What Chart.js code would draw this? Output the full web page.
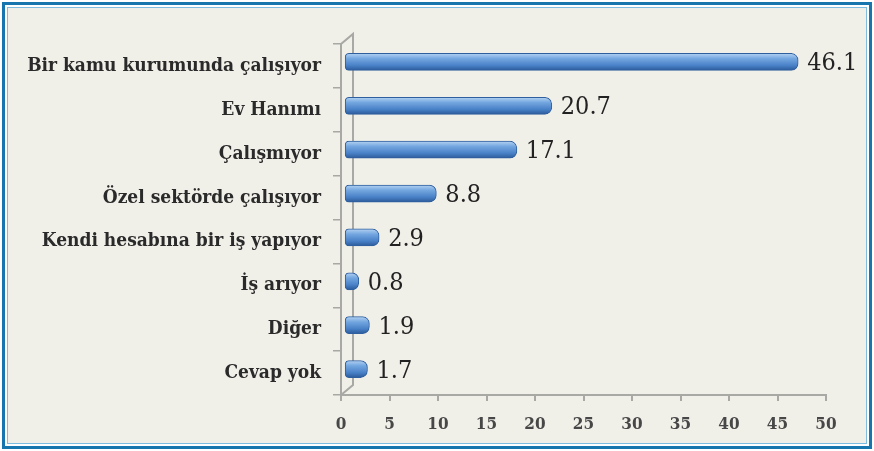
<!DOCTYPE html>
<html><head><meta charset="utf-8">
<script src="https://cdn.jsdelivr.net/npm/chart.js@4.4.0/dist/chart.umd.min.js"></script>
<style>html,body{margin:0;padding:0;background:#fff}#wrap{width:874px;height:451px;position:relative}</style>
</head><body><div id="wrap"><canvas id="c"></canvas></div>
<script>
const categories = ["Bir kamu kurumunda çalışıyor","Ev Hanımı","Çalışmıyor","Özel sektörde çalışıyor","Kendi hesabına bir iş yapıyor","İş arıyor","Diğer","Cevap yok"];
const values = [46.1, 20.7, 17.1, 8.8, 2.9, 0.8, 1.9, 1.7];
const valueLabels = ["46.1","20.7","17.1","8.8","2.9","0.8","1.9","1.7"];
const xTicks = [0,5,10,15,20,25,30,35,40,45,50];

const SERIF = "'DejaVu Serif Condensed','DejaVu Serif','Liberation Serif',serif";
const BX = 10, BY = -4, TH = 17;

const framePlugin = {
  id:'frame',
  beforeDraw(chart){
    const c = chart.ctx, W = chart.width, H = chart.height;
    c.save();
    c.fillStyle = '#ffffff'; c.fillRect(0,0,W,H);
    c.fillStyle = '#f0efe8'; c.fillRect(7,7,W-14,H-14);
    c.strokeStyle = '#1676ad'; c.lineWidth = 3;
    c.strokeRect(3.5,3.5,W-7,H-7);
    c.strokeStyle = '#7fbde0'; c.lineWidth = 1;
    c.strokeRect(7.5,7.5,W-15,H-15);
    c.restore();
  },
  beforeDatasetsDraw(chart){
    const c = chart.ctx, a = chart.chartArea;
    c.save();
    c.strokeStyle = '#a8a8a4'; c.lineWidth = 2;
    c.beginPath();
    c.moveTo(a.left, a.top); c.lineTo(a.left+12, a.top-10); c.lineTo(a.left+12, a.bottom-10); c.lineTo(a.left, a.bottom);
    c.stroke();
    c.restore();
    c.save();
    c.translate(BX, BY);
  },
  afterDatasetsDraw(chart){
    const c = chart.ctx;
    c.restore();
    c.save();
    c.fillStyle = '#222222';
    c.font = "25px " + SERIF;
    c.textBaseline = 'middle';
    const meta = chart.getDatasetMeta(0);
    meta.data.forEach((bar,i)=>{
      c.fillText(valueLabels[i], bar.x + BX + 9, bar.y + BY + 2);
    });
    c.restore();
  }
};

function barGrad(ctx){
  const chart = ctx.chart;
  const ys = chart.scales && chart.scales.y;
  if(ys === undefined || ctx.dataIndex === undefined) return '#4f8bd0';
  const y = ys.getPixelForValue(ctx.dataIndex);
  if(!isFinite(y)) return '#4f8bd0';
  const g = chart.ctx.createLinearGradient(0, y - TH/2, 0, y + TH/2);
  g.addColorStop(0, '#b4d2f2');
  g.addColorStop(0.3, '#74a7e0');
  g.addColorStop(0.7, '#4a82c8');
  g.addColorStop(1, '#2b5a9a');
  return g;
}

new Chart(document.getElementById('c'), {
  type:'bar',
  data:{ labels: categories, datasets:[{
    data: values,
    base: -0.6,
    clip: false,
    backgroundColor: barGrad,
    borderColor: '#2f5f9e',
    borderWidth: 1,
    borderSkipped: false,
    borderRadius: {topLeft:4,bottomLeft:4,topRight:7,bottomRight:7},
    barThickness: TH
  }]},
  options:{
    indexAxis:'y',
    responsive:true, maintainAspectRatio:false, animation:false,
    layout:{ padding:{ left:10, right:48, top:44, bottom:0 } },
    plugins:{ legend:{display:false}, tooltip:{enabled:false} },
    scales:{
      x:{
        min:0, max:50,
        afterBuildTicks(s){ s.ticks = xTicks.map(v=>({value:v})); },
        afterFit(s){ s.height = 56; },
        grid:{ drawOnChartArea:false, drawTicks:true, tickLength:6, color:'#a8a8a4', lineWidth:2 },
        border:{ display:true, color:'#a8a8a4', width:2 },
        ticks:{ color:'#474747', font:{ family:SERIF, size:17, weight:'bold' }, padding:13, maxRotation:0 }
      },
      y:{
        afterFit(s){ s.width = 331; },
        grid:{ drawOnChartArea:false, drawTicks:true, tickLength:8, color:'#a8a8a4', lineWidth:1.5, offset:true },
        border:{ display:true, color:'#a8a8a4', width:2 },
        ticks:{ color:'#2a2a2a', font:{ family:SERIF, size:19, weight:'bold' }, padding:12 }
      }
    }
  },
  plugins:[framePlugin]
});
</script></body></html>
